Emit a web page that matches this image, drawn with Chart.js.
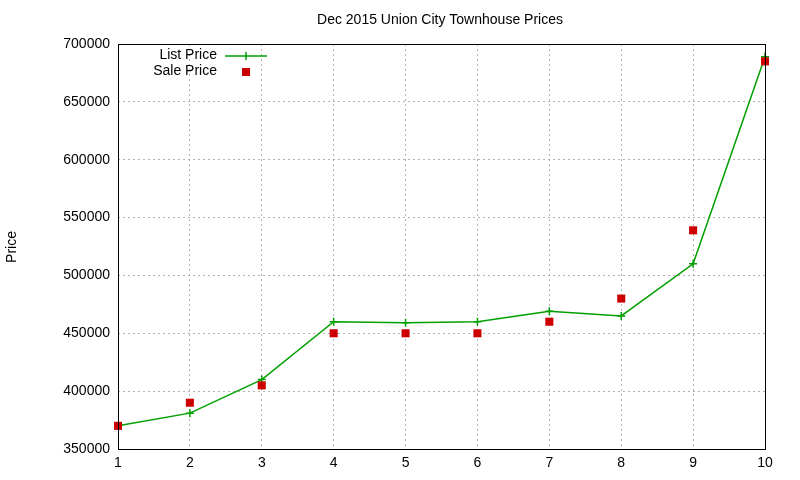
<!DOCTYPE html>
<html><head><meta charset="utf-8">
<script src="https://cdn.jsdelivr.net/npm/chart.js@4/dist/chart.umd.min.js"></script>
<style>body{margin:0;background:#fff}canvas{display:block}</style>
</head><body>
<canvas id="c" width="800" height="480"></canvas>
<script>
const categories = [1,2,3,4,5,6,7,8,9,10];
const listPrice = [370000,381000,410000,460000,459000,460000,469000,465000,510000,689000];
const salePrice = [370000,390000,405000,450000,450000,450000,460000,480000,539000,685000];
const yTicks = [350000,400000,450000,500000,550000,600000,650000,700000];
const GREEN = '#00a000', RED = '#cc0000';
const FONT = 'Liberation Sans, Arial, sans-serif';

const deco = {
  id:'deco',
  afterDraw(chart){
    const ctx = chart.ctx, a = chart.chartArea;
    ctx.save();
    ctx.strokeStyle='#000'; ctx.lineWidth=1;
    ctx.strokeRect(Math.round(a.left)+0.5, Math.round(a.top)+0.5, Math.round(a.right-a.left), Math.round(a.bottom-a.top));
    ctx.fillStyle='#000'; ctx.font='14px '+FONT;
    ctx.textAlign='center'; ctx.textBaseline='middle';
    ctx.fillText('Dec 2015 Union City Townhouse Prices', 440, 20);
    ctx.save(); ctx.translate(12, 247); ctx.rotate(-Math.PI/2); ctx.fillText('Price',0,0); ctx.restore();
    ctx.textAlign='right';
    ctx.fillText('List Price', 217, 55);
    ctx.fillText('Sale Price', 217, 71);
    ctx.strokeStyle=GREEN; ctx.lineWidth=1.5;
    ctx.beginPath(); ctx.moveTo(225,56); ctx.lineTo(267,56);
    ctx.moveTo(242,56); ctx.lineTo(250,56); ctx.moveTo(246,52); ctx.lineTo(246,60); ctx.stroke();
    ctx.fillStyle=RED; ctx.fillRect(242,68,8,8);
    ctx.restore();
  }
};

new Chart(document.getElementById('c'), {
  type:'line',
  data:{ datasets:[
    {label:'List Price', data:categories.map((x,i)=>({x, y:listPrice[i]})), borderColor:GREEN, backgroundColor:GREEN,
     borderWidth:1.5, pointStyle:'cross', pointRadius:4, pointBorderWidth:1.5, tension:0, order:2, clip:false},
    {label:'Sale Price', data:categories.map((x,i)=>({x, y:salePrice[i]})), showLine:false, pointStyle:'rect',
     pointRadius:5.7, backgroundColor:RED, borderColor:RED, pointBorderWidth:0, order:1, clip:false}
  ]},
  options:{
    responsive:false, animation:false,
    layout:{padding:{left:0, top:44, right:35, bottom:0}},
    plugins:{legend:{display:false}, title:{display:false}, tooltip:{enabled:false}},
    scales:{
      x:{type:'linear', min:1, max:10, border:{display:false, dash:[2,3]},
         afterFit(s){s.height=31;},
         afterBuildTicks(s){s.ticks=categories.map(v=>({value:v}));},
         grid:{color:'#a0a0a0', lineWidth:0.8, drawTicks:false},
         ticks:{color:'#000', font:{family:FONT,size:14}, padding:6, maxRotation:0}},
      y:{min:350000, max:700000, border:{display:false, dash:[2,3]},
         afterFit(s){s.width=118;},
         afterBuildTicks(s){s.ticks=yTicks.map(v=>({value:v}));},
         grid:{color:'#a0a0a0', lineWidth:0.8, drawTicks:false},
         ticks:{color:'#000', font:{family:FONT,size:14}, padding:8, callback:v=>String(v)}}
    }
  },
  plugins:[deco]
});
</script>
</body></html>
